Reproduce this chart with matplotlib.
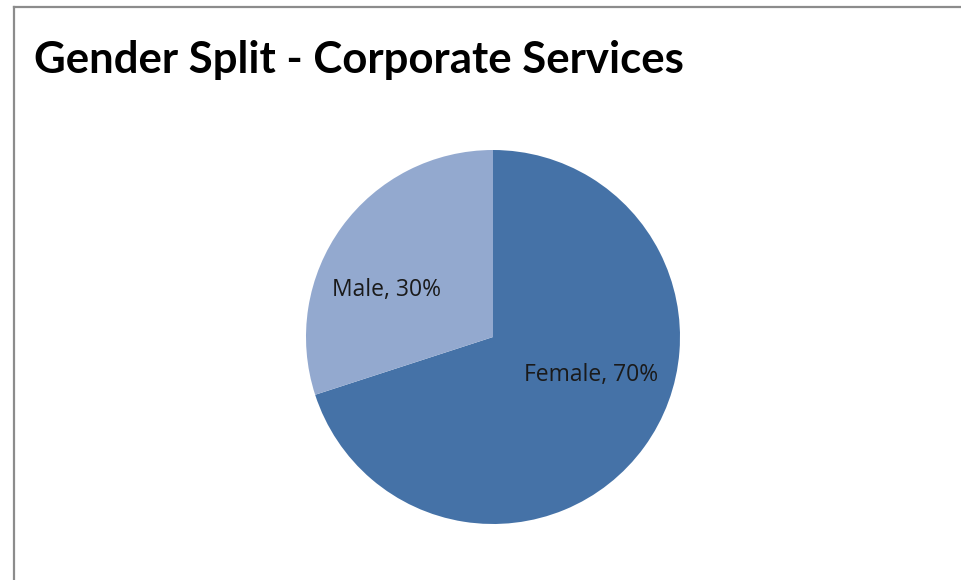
import matplotlib.pyplot as plt
from matplotlib.lines import Line2D

# gender split data
labels = ["Female", "Male"]
shares = [70, 30]
colors = ["#4572a7", "#93a9cf"]

W, H = 961, 580
fig = plt.figure(figsize=(W / 100, H / 100), dpi=100)
fig.patch.set_facecolor("white")

# chart frame: only left and top edges visible
fig.add_artist(Line2D([13.5 / W, 13.5 / W], [0, 1 - 6.5 / H], color="#8c8c8c", lw=1.6))
fig.add_artist(Line2D([13.5 / W, 1], [1 - 6.5 / H, 1 - 6.5 / H], color="#8c8c8c", lw=1.6))

fig.text(34 / W, 1 - 60 / H, "Gender Split - Corporate Services",
         fontsize=31.5, fontweight="bold", family="Lato", va="center", ha="left")

cx, cy, r = 493, 337, 187
ax = fig.add_axes([(cx - r) / W, (H - cy - r) / H, 2 * r / W, 2 * r / H])
ax.pie(shares, colors=colors, startangle=90, counterclock=False,
       wedgeprops=dict(linewidth=0), radius=1)
ax.set_xlim(-1, 1)
ax.set_ylim(-1, 1)
ax.set_aspect("auto")
ax.axis("off")

label_pos = [(0.524, -0.203), (-0.567, 0.251)]
for name, val, (x, y) in zip(labels, shares, label_pos):
    ax.text(x, y, f"{name}, {val}%", ha="center", va="center",
            fontsize=16.5, family="Open Sans", color="#1a1a1a")

fig.savefig("out.png", dpi=100)
